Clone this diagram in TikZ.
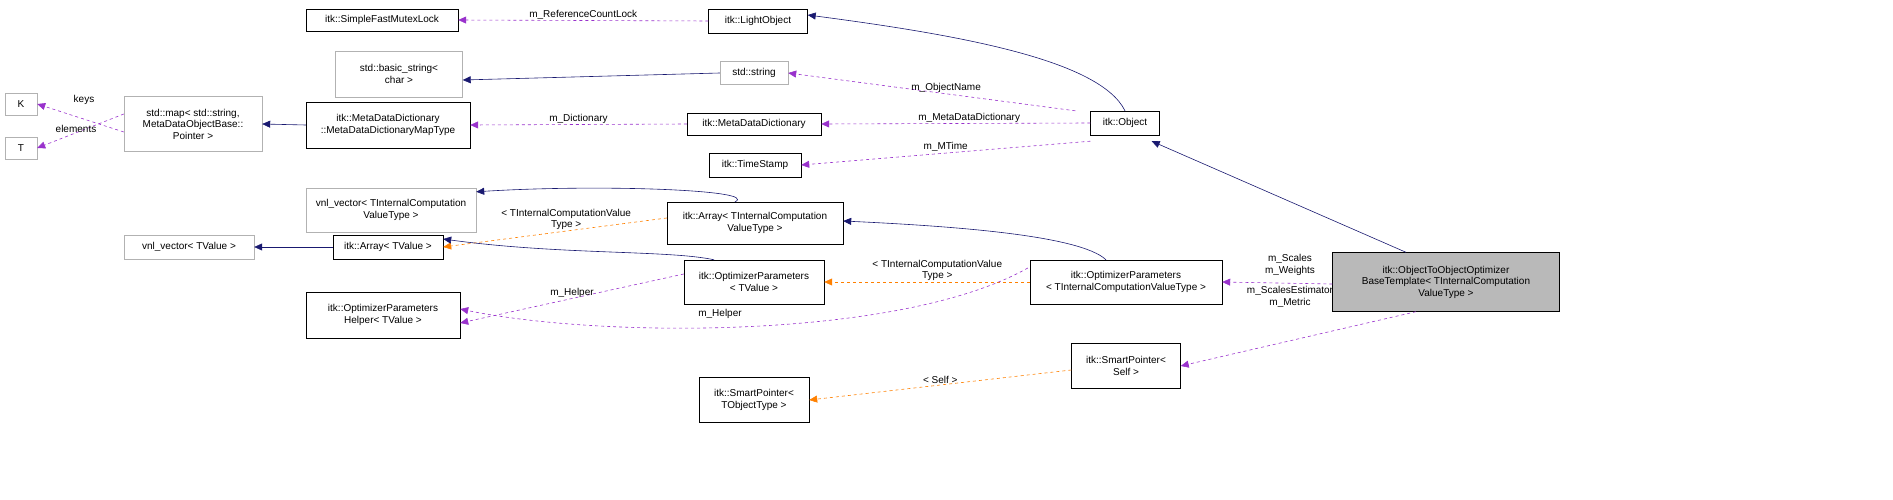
\documentclass[tikz,border=0pt]{standalone}
\usepackage{fontspec}
\setmainfont{Liberation Sans}
\usetikzlibrary{arrows.meta}
\begin{document}
\begin{tikzpicture}[x=1pt,y=-1pt,
 box/.style={draw=black,fill=white,inner sep=1pt,align=center,font=\fontsize{10}{11.5}\selectfont},
 gbox/.style={box,draw=gray!60},
 lbl/.style={font=\fontsize{10}{11.5}\selectfont,align=center,inner sep=1pt},
 inh/.style={draw={rgb,255:red,25;green,25;blue,112},-{Triangle[length=8pt,width=7pt]},semithick},
 use/.style={draw={rgb,255:red,153;green,50;blue,204},dashed,-{Triangle[length=8pt,width=7pt]},semithick},
 tmp/.style={draw=orange,dashed,-{Triangle[length=8pt,width=7pt]},semithick}]
\useasboundingbox (0,0) rectangle (1893,500);
\newcommand{\bx}[6]{\node[#1,minimum width=#4,minimum height=#5] (#2) at #3 {#6};}
\bx{gbox}{K}{(21,104)}{32pt}{22pt}{K}
\bx{gbox}{T}{(21,148)}{32pt}{22pt}{T}
\bx{gbox}{map}{(193,124)}{138pt}{55pt}{std::map< std::string,\\MetaDataObjectBase::\\Pointer >}
\bx{box}{mutex}{(382,20)}{152pt}{22pt}{itk::SimpleFastMutexLock}
\bx{box}{light}{(758,21)}{99pt}{24pt}{itk::LightObject}
\bx{gbox}{bstr}{(399,74)}{127pt}{46pt}{std::basic\_string<\\char >}
\bx{gbox}{str}{(754,73)}{68pt}{23pt}{std::string}
\bx{box}{mapt}{(388,125)}{164pt}{46pt}{itk::MetaDataDictionary\\::MetaDataDictionaryMapType}
\bx{box}{mdd}{(754,124)}{134pt}{22pt}{itk::MetaDataDictionary}
\bx{box}{obj}{(1125,123)}{69pt}{24pt}{itk::Object}
\bx{box}{ts}{(755,165)}{92pt}{24pt}{itk::TimeStamp}
\bx{gbox}{vtic}{(391,210)}{170pt}{44pt}{vnl\_vector< TInternalComputation\\ValueType >}
\bx{box}{atic}{(755,223)}{176pt}{42pt}{itk::Array< TInternalComputation\\ValueType >}
\bx{gbox}{vtv}{(189,247)}{130pt}{24pt}{vnl\_vector< TValue >}
\bx{box}{atv}{(388,247)}{110pt}{24pt}{itk::Array< TValue >}
\bx{box}{optv}{(754,282)}{140pt}{44pt}{itk::OptimizerParameters\\< TValue >}
\bx{box}{help}{(383,315)}{154pt}{46pt}{itk::OptimizerParameters\\Helper< TValue >}
\bx{box}{optic}{(1126,282)}{192pt}{44pt}{itk::OptimizerParameters\\< TInternalComputationValueType >}
\node[box,fill=gray!55,minimum width=227pt,minimum height=59pt] (main) at (1446,282) {itk::ObjectToObjectOptimizer\\BaseTemplate< TInternalComputation\\ValueType >};
\bx{box}{sps}{(1126,366)}{109pt}{45pt}{itk::SmartPointer<\\Self >}
\bx{box}{spt}{(754,400)}{110pt}{45pt}{itk::SmartPointer<\\TObjectType >}
% edges
\draw[use] (light.west) -- node[lbl,above]{m\_ReferenceCountLock} (mutex.east);
\draw[inh] (obj.north) .. controls (1100,60) and (960,35) .. ([yshift=6pt]light.east);
\draw[inh] (str.west) -- ([yshift=-6pt]bstr.east);
\draw[use] ([xshift=-15pt]obj.north west) -- node[lbl,above,pos=0.45]{m\_ObjectName} (str.east);
\draw[use] (obj.west) -- node[lbl,above,pos=0.45]{m\_MetaDataDictionary} (mdd.east);
\draw[use] ([yshift=-6pt]obj.south west) -- node[lbl,above,pos=0.5]{m\_MTime} (ts.east);
\draw[use] (mdd.west) -- node[lbl,above]{m\_Dictionary} (mapt.west-|mapt.east);
\draw[inh] (mapt.west) -- (map.east);
\draw[use] ([yshift=-8pt]map.west) -- (K.east);
\draw[use] ([yshift=10pt]map.west) -- (T.east);
\node[lbl] (lk) at (84,100) {keys};
\node[lbl] (le) at (76,129) {elements};
\draw[inh] ([xshift=-40pt]main.north) -- ([yshift=-6pt,xshift=-8pt]obj.south east);
\draw[inh] ([xshift=-20pt]atic.north) .. controls (760,190) and (600,184) .. ([yshift=-4pt]vtic.north east);
\draw[tmp] ([yshift=5pt]atic.west) -- node[lbl,above,pos=0.45]{< TInternalComputationValue\\Type >} (atv.east);
\draw[inh] (atv.west) -- (vtv.east);
\draw[inh] ([xshift=-20pt]optic.north) .. controls (1080,235) and (950,226) .. ([yshift=2pt]atic.east);
\draw[inh] ([xshift=-40pt]optv.north) .. controls (670,250) and (560,255) .. ([yshift=8pt]atv.east);
\draw[tmp] (optic.west) -- node[lbl,above,pos=0.45]{< TInternalComputationValue\\Type >} (optv.east);
\draw[use] ([yshift=8pt]optv.west) -- node[lbl,above,pos=0.5]{m\_Helper} ([yshift=-8pt]help.east);
\draw[use] ([yshift=14pt,xshift=-2pt]optic.west) .. controls (900,340) and (600,338) .. ([yshift=6pt]help.east);
\node[lbl] at (720,314) {m\_Helper};
\draw[use] ([yshift=-2pt]main.west) -- (optic.east);
\node[lbl] at (1290,265) {m\_Scales\\m\_Weights};
\node[lbl] at (1290,297) {m\_ScalesEstimator\\m\_Metric};
\draw[use] ([xshift=-30pt]main.south) -- (sps.east);
\draw[tmp] ([yshift=-4pt]sps.west) -- node[lbl,above]{< Self >} (spt.east);
\end{tikzpicture}
\end{document}
